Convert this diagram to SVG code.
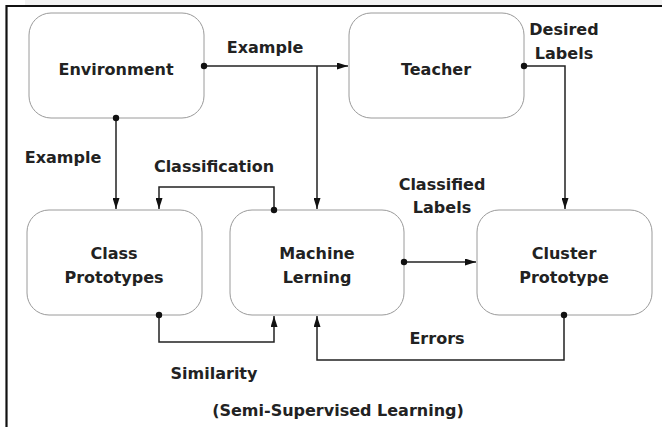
<svg xmlns="http://www.w3.org/2000/svg" width="662" height="427" viewBox="0 0 662 427">
<style>
.node rect{fill:#fff;stroke:#9a9a9a;stroke-width:1}
text{font-family:"DejaVu Sans","Liberation Sans",sans-serif;font-weight:bold;font-size:16px;fill:#222;text-anchor:middle;dominant-baseline:central}
.c{fill:none;stroke:#222;stroke-width:1.5}
.d{fill:#111}
</style>
<defs>
<marker id="ah" viewBox="0 0 11 7" refX="11" refY="3.5" markerWidth="11" markerHeight="7" markerUnits="userSpaceOnUse" orient="auto">
<path d="M0,0 L11,3.5 L0,7 Z" fill="#111"/>
</marker>
</defs>
<rect x="0" y="0" width="662" height="427" fill="#fff"/>
<rect x="25" y="0" width="637" height="5" fill="#f2f2f2"/>
<path d="M6.5,427 V6 H662" fill="none" stroke="#111" stroke-width="2.2"/>
<g id="environment" class="node"><rect x="29" y="13" width="175" height="105" rx="22"/><text x="116" y="69">Environment</text></g>
<g id="teacher" class="node"><rect x="349" y="13" width="175" height="105" rx="22"/><text x="436" y="69">Teacher</text></g>
<g id="class-prototypes" class="node"><rect x="27" y="210" width="175" height="105" rx="22"/><text x="114" y="253">Class</text><text x="114" y="277">Prototypes</text></g>
<g id="machine-learning" class="node"><rect x="230" y="210" width="174" height="105" rx="22"/><text x="317" y="253">Machine</text><text x="317" y="277">Lerning</text></g>
<g id="cluster-prototype" class="node"><rect x="477" y="210" width="175" height="105" rx="22"/><text x="564" y="253">Cluster</text><text x="564" y="277">Prototype</text></g>
<g id="connectors">
<path class="c" d="M204,66 H348" marker-end="url(#ah)"/>
<path class="c" d="M317,66 V209" marker-end="url(#ah)"/>
<path class="c" d="M116,118 V209" marker-end="url(#ah)"/>
<path class="c" d="M274,210 V187 H159 V209" marker-end="url(#ah)"/>
<path class="c" d="M159,315 V342 H274 V316" marker-end="url(#ah)"/>
<path class="c" d="M564,315 V360 H317 V316" marker-end="url(#ah)"/>
<path class="c" d="M524,66 H565 V209" marker-end="url(#ah)"/>
<path class="c" d="M404,262 H476" marker-end="url(#ah)"/>
<circle class="d" cx="204" cy="66" r="3.2"/>
<circle class="d" cx="116" cy="118" r="3.2"/>
<circle class="d" cx="274" cy="210" r="3.2"/>
<circle class="d" cx="159" cy="315" r="3.2"/>
<circle class="d" cx="564" cy="315" r="3.2"/>
<circle class="d" cx="524" cy="66" r="3.2"/>
<circle class="d" cx="404" cy="262" r="3.2"/>
<text x="265" y="47">Example</text>
<text x="63" y="157">Example</text>
<text x="214" y="166">Classification</text>
<text x="564" y="29">Desired</text>
<text x="564" y="53">Labels</text>
<text x="442" y="184">Classified</text>
<text x="442" y="207">Labels</text>
<text x="437" y="338">Errors</text>
<text x="214" y="373">Similarity</text>
</g>
<text x="338" y="410">(Semi-Supervised Learning)</text>
</svg>
